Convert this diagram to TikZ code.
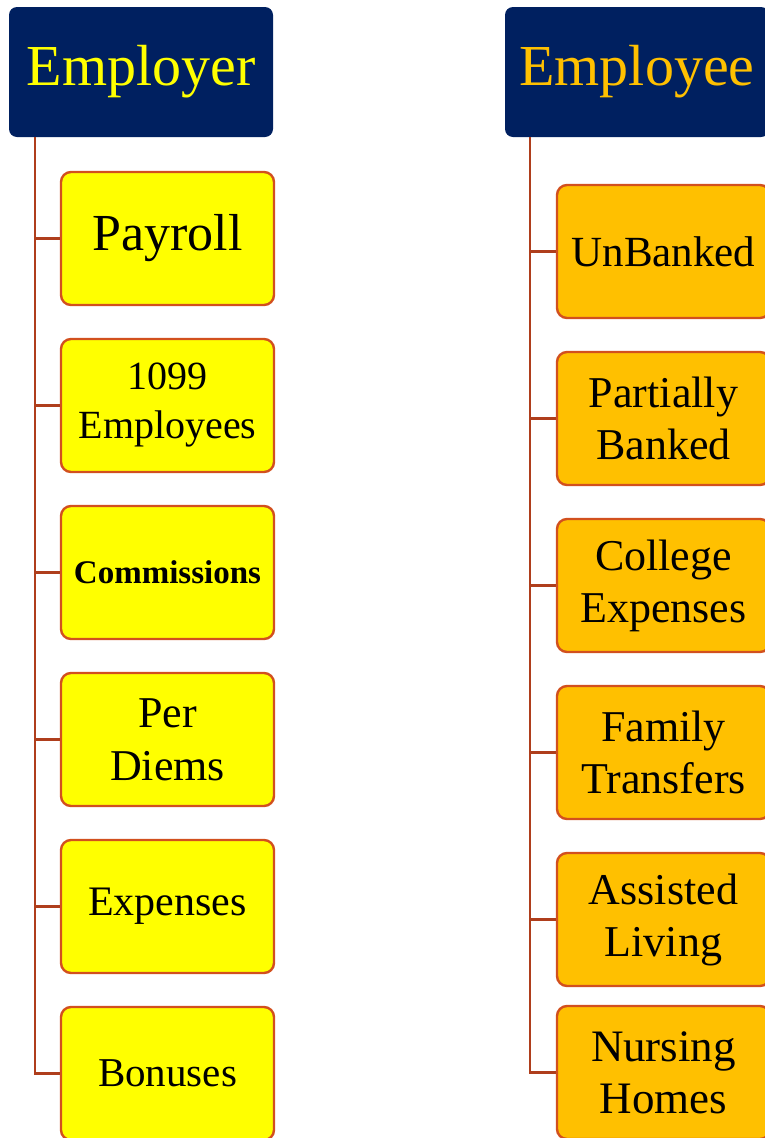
\documentclass[tikz,border=0pt]{standalone}
\usepackage{fontspec}
\setmainfont{Liberation Serif}
\definecolor{navy}{RGB}{0,32,96}
\definecolor{hdryellow}{RGB}{255,255,0}
\definecolor{hdrorange}{RGB}{255,192,0}
\definecolor{boxyellow}{RGB}{255,255,0}
\definecolor{boxorange}{RGB}{255,192,0}
\definecolor{boxborder}{RGB}{210,80,30}
\definecolor{connline}{RGB}{175,62,28}
\tikzset{
  header/.style={fill=navy, draw=none, rounded corners=8pt, minimum height=130pt, inner sep=0pt, font=\fontsize{58}{62}\selectfont},
  leafbox/.style={draw=boxborder, line width=2.4pt, rounded corners=10pt, minimum width=213pt, minimum height=133pt, inner sep=0pt, align=center, text=black},
  ybox/.style={leafbox, fill=boxyellow},
  obox/.style={leafbox, fill=boxorange},
  conn/.style={draw=connline, line width=2.4pt}
}
\begin{document}
\begin{tikzpicture}[x=1pt,y=-1pt]
\useasboundingbox (0,0) rectangle (765,1138);
\clip (0,0) rectangle (765,1138);
% headers
\node[header, minimum width=264pt, text=hdryellow] (employer) at (141,72) {\raisebox{-3pt}{Employer}};
\node[header, minimum width=264pt, text=hdrorange] (employee) at (637,72) {\raisebox{-3pt}{Employee}};
% employer children
\node[ybox, font=\fontsize{52}{60}\selectfont] (p1) at (167.5,238.5) {\raisebox{-3pt}{Payroll}};
\node[ybox, font=\fontsize{40}{49}\selectfont] (p2) at (167.5,405.5) {1099\\Employees};
\node[ybox, font=\bfseries\fontsize{33}{38}\selectfont] (p3) at (167.5,572.5) {Commissions};
\node[ybox, font=\fontsize{44}{53}\selectfont] (p4) at (167.5,739.5) {Per\\Diems};
\node[ybox, font=\fontsize{42}{50}\selectfont] (p5) at (167.5,906.5) {\raisebox{-2pt}{Expenses}};
\node[ybox, font=\fontsize{41}{50}\selectfont] (p6) at (167.5,1073.5) {Bonuses};
% employee children
\node[obox, font=\fontsize{43}{52}\selectfont] (q1) at (663.5,251.5) {\raisebox{-2pt}{UnBanked}};
\node[obox, font=\fontsize{44}{52}\selectfont] (q2) at (663.5,418.5) {Partially\\Banked};
\node[obox, font=\fontsize{44}{52}\selectfont] (q3) at (663.5,585.5) {College\\Expenses};
\node[obox, font=\fontsize{44}{52}\selectfont] (q4) at (663.5,752.5) {Family\\Transfers};
\node[obox, font=\fontsize{44}{52}\selectfont] (q5) at (663.5,919.5) {Assisted\\Living};
\node[obox, font=\fontsize{45}{52}\selectfont] (q6) at (663.5,1072.5) {Nursing\\Homes};
% connectors
\coordinate (L) at ([xshift=26pt]employer.south west);
\coordinate (R) at ([xshift=25pt]employee.south west);
\draw[conn] (L) |- (p6.west);
\foreach \n in {p1,p2,p3,p4,p5}{\draw[conn] (L |- \n.west) -- (\n.west);}
\draw[conn] (R) |- (q6.west);
\foreach \n in {q1,q2,q3,q4,q5}{\draw[conn] (R |- \n.west) -- (\n.west);}
\end{tikzpicture}
\end{document}
